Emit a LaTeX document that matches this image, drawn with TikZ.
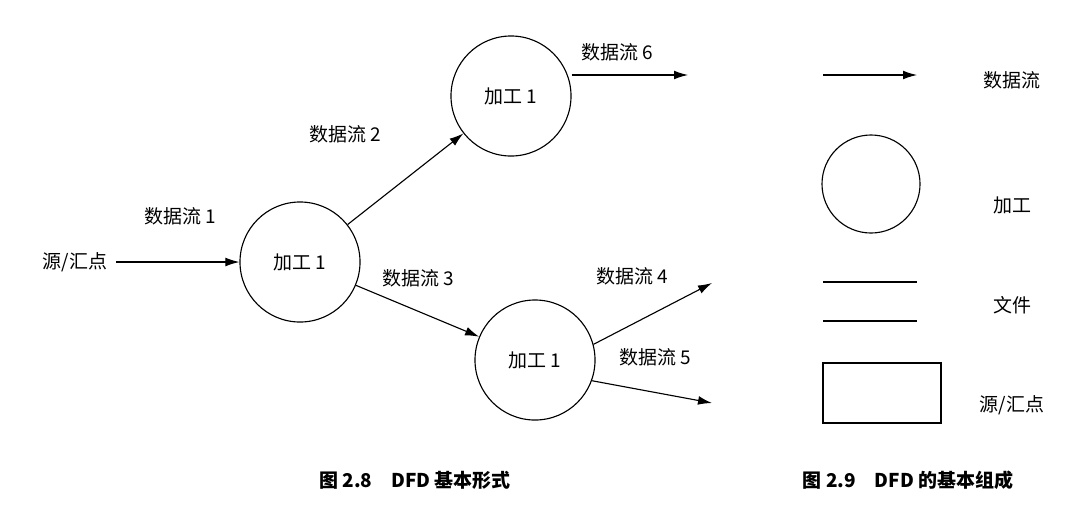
\documentclass[tikz,border=0pt]{standalone}
\usepackage{fontspec}
\setmainfont{Noto Sans CJK SC}
\usetikzlibrary{arrows.meta, positioning, calc}

\begin{document}
\begin{tikzpicture}[
    x=0.025cm, y=-0.025cm,
    proc/.style={circle, draw=black, thick, minimum size=3cm, inner sep=0pt, font=\fontsize{13.5}{15}\selectfont},
    lbl/.style={font=\fontsize{13.5}{15}\selectfont},
    caption/.style={font=\bfseries\fontsize{13.5}{15}\selectfont},
    arrow/.style={-{Latex[length=3.5mm, width=2.2mm]}, thick}
]
\useasboundingbox (0,0) rectangle (1076,508);

% === DFD basic form (left) ===
\node[lbl] (src) at (75,262) {源/汇点};
\node[proc] (p1) at (300,262) {加工 1};
\node[proc] (p2) at (511,96) {加工 1};
\node[proc] (p3) at (535,360) {加工 1};

\coordinate (out6) at (688,75);
\coordinate (out4) at (712,283);
\coordinate (out5) at (712,403);

\draw[arrow] (src.east) ++(4,0) coordinate (s1) -- (p1);
\draw[arrow] (p1) -- (p2);
\draw[arrow] (p1) -- (p3);
\draw[arrow] (p2.east |- 0,75) -- (out6);
\draw[arrow] (p3.15) -- (out4);
\draw[arrow] (p3.-20) -- (out5);

\node[lbl] (f1) at (180,216) {数据流 1};
\node[lbl] (f2) at (345,134) {数据流 2};
\node[lbl] (f3) at (418,278) {数据流 3};
\node[lbl] (f6) at (617,52) {数据流 6};
\node[lbl] (f4) at (632,276) {数据流 4};
\node[lbl] (f5) at (655,357) {数据流 5};

% === legend (right) ===
\coordinate (la) at (823,75);
\coordinate (lb) at (917,75);
\draw[arrow] (la) -- (lb);
\node[lbl] (t1) at (1012,80) {数据流};

\node[circle, draw=black, thick, minimum size=2.45cm] (lc) at (871,184) {};
\node[lbl] (t2) at (1012,205) {加工};

\draw[thick] (823,282) -- (917,282);
\draw[thick] (823,321) -- (917,321);
\node[lbl] (t3) at (1012,305) {文件};

\node[rectangle, draw=black, thick, minimum width=2.95cm, minimum height=1.5cm] (lr) at (882,393) {};
\node[lbl] (t4) at (1012,405) {源/汇点};

% captions
\node[caption] (c1) at (415,480) {图 2.8\quad DFD 基本形式};
\node[caption] (c2) at (908,480) {图 2.9\quad DFD 的基本组成};

\end{tikzpicture}
\end{document}
